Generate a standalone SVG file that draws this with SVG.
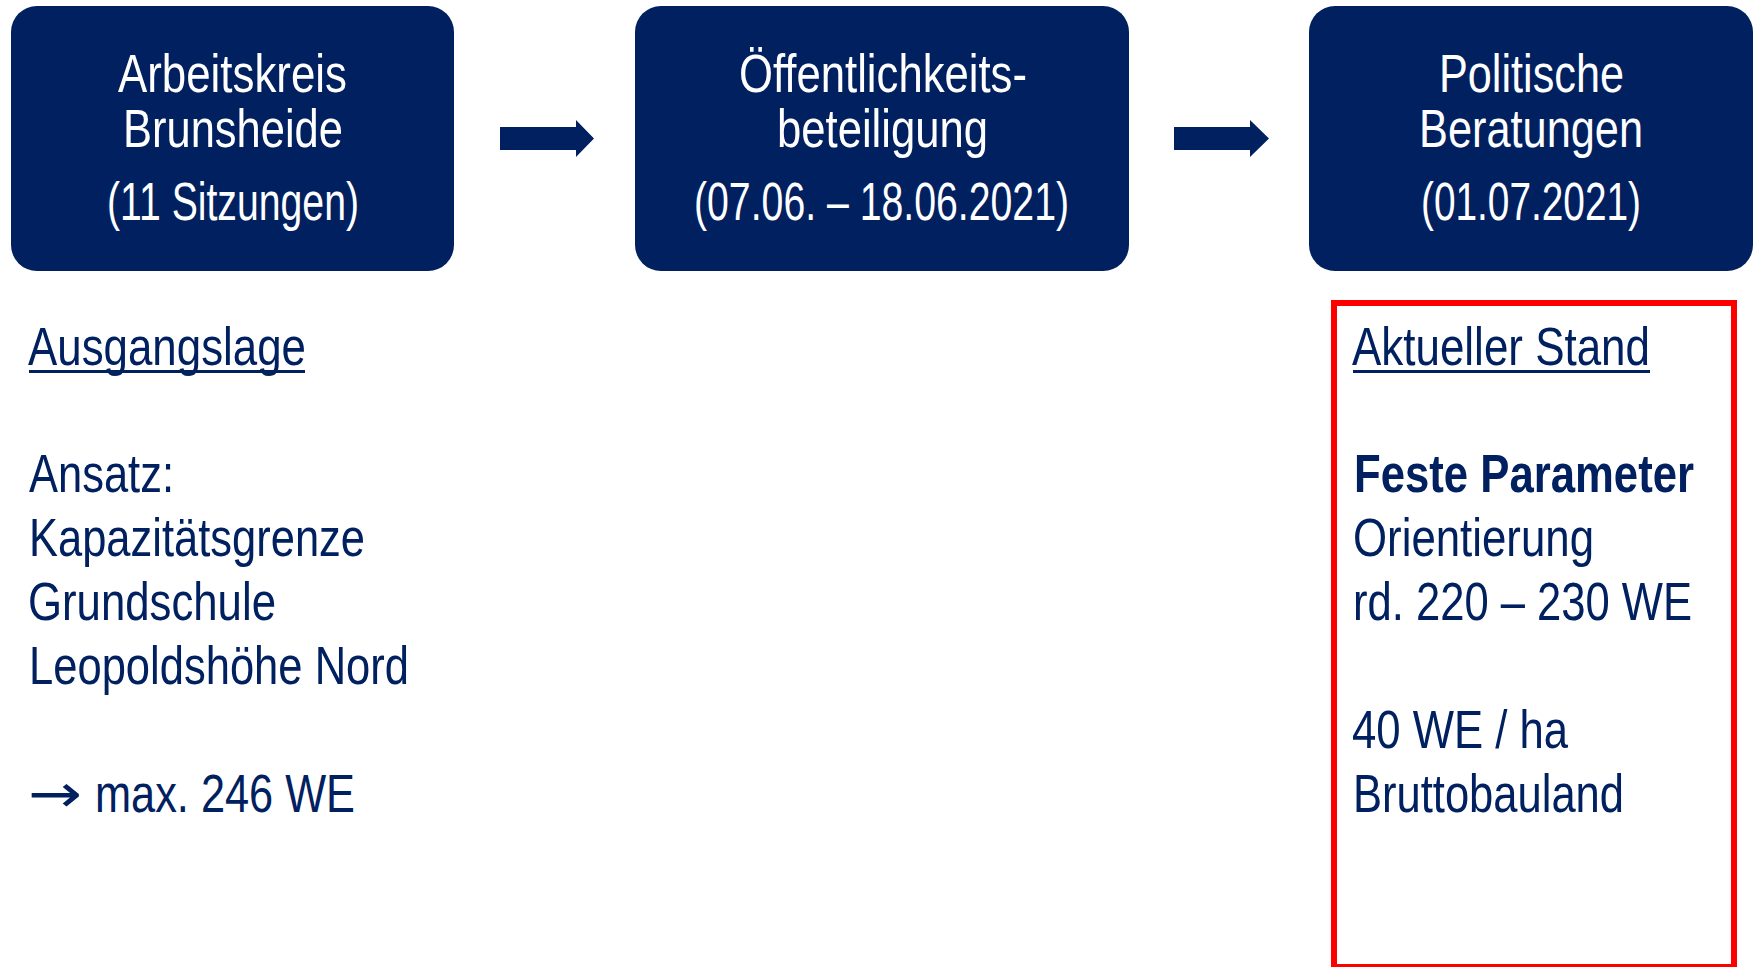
<svg xmlns="http://www.w3.org/2000/svg" width="1757" height="967" viewBox="0 0 1757 967">
<defs>
<style>
.box{fill:#002060;}
.bt{fill:#ffffff;font-family:"Liberation Sans Narrow","Liberation Sans",Arial,sans-serif;font-size:53px;}
.tx{fill:#002060;font-family:"Liberation Sans Narrow","Liberation Sans",Arial,sans-serif;font-size:53px;}
.sym{fill:#002060;font-family:"DejaVu Sans",sans-serif;font-size:53px;}
.b{font-weight:bold;}
.ul{stroke:#002060;stroke-width:3;}
.arr{fill:#002060;}
</style>
</defs>
<rect width="1757" height="967" fill="#ffffff"/>
<g id="node-arbeitskreis">
<rect class="box" x="11" y="6" width="443" height="265" rx="26"/>
<text class="bt" x="118" y="92" textLength="229" lengthAdjust="spacingAndGlyphs">Arbeitskreis</text>
<text class="bt" x="123" y="147" textLength="220" lengthAdjust="spacingAndGlyphs">Brunsheide</text>
<text class="bt" x="107" y="220" textLength="252" lengthAdjust="spacingAndGlyphs">(11 Sitzungen)</text>
</g>
<g id="node-oeffentlichkeit">
<rect class="box" x="635" y="6" width="494" height="265" rx="26"/>
<text class="bt" x="739" y="92" textLength="288" lengthAdjust="spacingAndGlyphs">Öffentlichkeits-</text>
<text class="bt" x="777" y="147" textLength="211" lengthAdjust="spacingAndGlyphs">beteiligung</text>
<text class="bt" x="694" y="220" textLength="375" lengthAdjust="spacingAndGlyphs">(07.06. – 18.06.2021)</text>
</g>
<g id="node-politik">
<rect class="box" x="1309" y="6" width="444" height="265" rx="26"/>
<text class="bt" x="1439" y="92" textLength="185" lengthAdjust="spacingAndGlyphs">Politische</text>
<text class="bt" x="1419" y="147" textLength="224" lengthAdjust="spacingAndGlyphs">Beratungen</text>
<text class="bt" x="1421" y="220" textLength="220" lengthAdjust="spacingAndGlyphs">(01.07.2021)</text>
</g>
<g id="connectors">
<polygon class="arr" points="500,127 576,127 576,120 594,138.5 576,157 576,150 500,150"/>
<polygon class="arr" points="1174,127 1250,127 1250,120 1269,138.5 1250,157 1250,150 1174,150"/>
</g>
<g id="ausgangslage">
<text class="tx" x="28" y="365" textLength="278" lengthAdjust="spacingAndGlyphs">Ausgangslage</text>
<line class="ul" x1="29" y1="371.5" x2="305" y2="371.5"/>
<text class="tx" x="29" y="492" textLength="145" lengthAdjust="spacingAndGlyphs">Ansatz:</text>
<text class="tx" x="29" y="556" textLength="336" lengthAdjust="spacingAndGlyphs">Kapazitätsgrenze</text>
<text class="tx" x="28" y="620" textLength="248" lengthAdjust="spacingAndGlyphs">Grundschule</text>
<text class="tx" x="29" y="684" textLength="380" lengthAdjust="spacingAndGlyphs">Leopoldshöhe Nord</text>
<text y="812"><tspan class="sym" x="28" textLength="54" lengthAdjust="spacingAndGlyphs">→</tspan><tspan class="tx" x="95" textLength="260" lengthAdjust="spacingAndGlyphs">max. 246 WE</tspan></text>
</g>
<g id="aktueller-stand">
<rect x="1334" y="303" width="400" height="664" fill="none" stroke="#ff0000" stroke-width="6"/>
<text class="tx" x="1352" y="365" textLength="298" lengthAdjust="spacingAndGlyphs">Aktueller Stand</text>
<line class="ul" x1="1353" y1="371.5" x2="1650" y2="371.5"/>
<text class="tx b" x="1354" y="492" textLength="340" lengthAdjust="spacingAndGlyphs">Feste Parameter</text>
<text class="tx" x="1353" y="556" textLength="241" lengthAdjust="spacingAndGlyphs">Orientierung</text>
<text class="tx" x="1353" y="620" textLength="339" lengthAdjust="spacingAndGlyphs">rd. 220 – 230 WE</text>
<text class="tx" x="1352" y="748" textLength="216" lengthAdjust="spacingAndGlyphs">40 WE / ha</text>
<text class="tx" x="1353" y="812" textLength="271" lengthAdjust="spacingAndGlyphs">Bruttobauland</text>
</g>
</svg>
